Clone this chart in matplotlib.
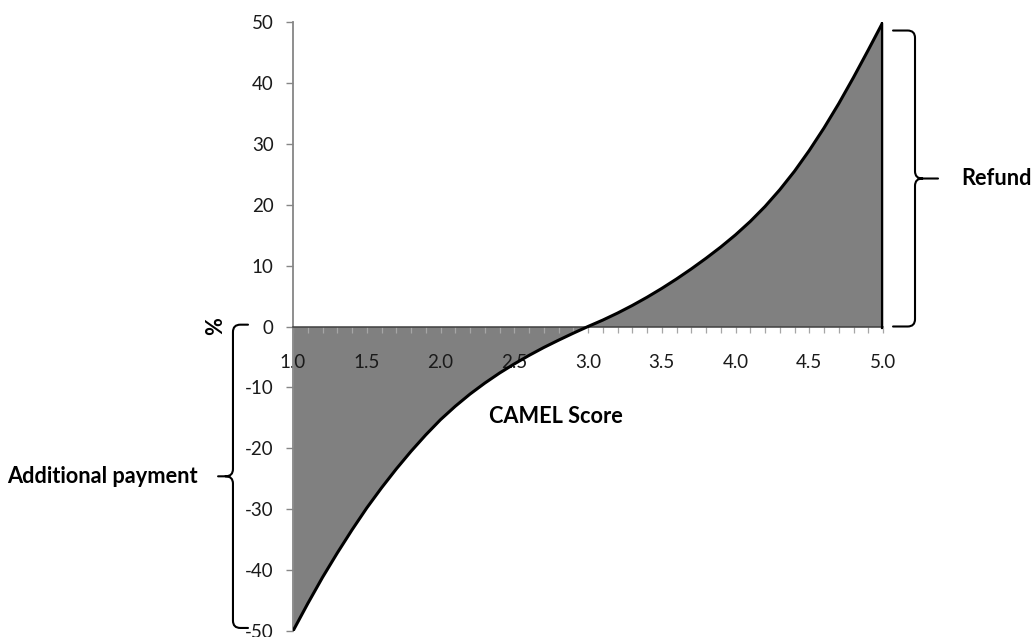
import matplotlib
matplotlib.use('Agg')
import matplotlib.pyplot as plt
from matplotlib.path import Path
from matplotlib.patches import PathPatch
from matplotlib.ticker import FixedLocator, MultipleLocator, FormatStrFormatter

# ---- data ----
camel_score = [1.0, 1.1, 1.2, 1.3, 1.4, 1.5, 1.6, 1.7, 1.8, 1.9, 2.0,
               2.1, 2.2, 2.3, 2.4, 2.5, 2.6, 2.7, 2.8, 2.9, 3.0,
               3.1, 3.2, 3.3, 3.4, 3.5, 3.6, 3.7, 3.8, 3.9, 4.0,
               4.1, 4.2, 4.3, 4.4, 4.5, 4.6, 4.7, 4.8, 4.9, 5.0]
pct = [-50.0, -45.5, -41.2, -37.2, -33.4, -29.8, -26.5, -23.4, -20.5, -17.8, -15.3,
       -13.1, -11.1, -9.3, -7.65, -6.15, -4.75, -3.45, -2.25, -1.1, 0.0,
       1.05, 2.2, 3.45, 4.8, 6.25, 7.8, 9.45, 11.2, 13.05, 15.05,
       17.25, 19.7, 22.45, 25.5, 28.9, 32.6, 36.6, 40.9, 45.4, 50.0]
x_major_ticks = [1.0, 1.5, 2.0, 2.5, 3.0, 3.5, 4.0, 4.5, 5.0]
y_ticks = [-50, -40, -30, -20, -10, 0, 10, 20, 30, 40, 50]

FONT = ['Lato', 'DejaVu Sans']
plt.rcParams['font.family'] = FONT
plt.rcParams['axes.unicode_minus'] = False

fig = plt.figure(figsize=(10.32, 6.37), dpi=100)
ax = fig.add_axes([293 / 1032, 6 / 637, 590 / 1032, 609 / 637])

ax.fill_between(camel_score, pct, 0, color='#808080', lw=0, zorder=1)
ax.plot(camel_score, pct, color='black', lw=2.2, zorder=3, solid_capstyle='round',
        solid_joinstyle='round')
ax.plot([camel_score[-1], camel_score[-1]], [0, pct[-1]], color='black', lw=3, zorder=3)

ax.set_xlim(camel_score[0], camel_score[-1])
ax.set_ylim(y_ticks[0], y_ticks[-1])

for s in ('top', 'right'):
    ax.spines[s].set_visible(False)
ax.spines['bottom'].set_position(('data', 0))
ax.spines['bottom'].set_color('#404040')
ax.spines['bottom'].set_linewidth(1.1)
ax.spines['left'].set_color('#868686')
ax.spines['left'].set_linewidth(1.3)

ax.xaxis.set_major_locator(FixedLocator(x_major_ticks))
ax.xaxis.set_minor_locator(MultipleLocator(0.1))
ax.xaxis.set_major_formatter(FormatStrFormatter('%.1f'))
ax.yaxis.set_major_locator(FixedLocator(y_ticks))

ax.tick_params(axis='x', which='both', direction='out', length=4, width=0.9,
               color='#a6a6a6', pad=16, labelsize=13.5, labelcolor='#1a1a1a')
ax.tick_params(axis='y', which='major', direction='out', length=5, width=1,
               color='#868686', pad=9, labelsize=13.5, labelcolor='#1a1a1a')

ax.set_xlabel('CAMEL Score', fontsize=15.7, fontweight='bold')
ax.xaxis.set_label_coords(0.4458, 0.353)
ax.xaxis.label.set_va('center')
ax.set_ylabel('%', fontsize=15.7, fontweight='bold', rotation=90)
ax.yaxis.set_label_coords(-0.1305, 0.5)
ax.yaxis.label.set_va('center')


def brace(ax, x_hook, x_spine, x_tip, y_top, y_bot, rx, ry):
    s = 1 if x_tip > x_spine else -1
    ym = (y_top + y_bot) / 2
    verts = [
        (x_hook, y_top), (x_spine - s * rx, y_top),
        (x_spine, y_top), (x_spine, y_top - ry),
        (x_spine, ym + ry),
        (x_spine, ym), (x_spine + s * rx, ym),
        (x_tip, ym),
        (x_spine + s * rx, ym),
        (x_spine, ym), (x_spine, ym - ry),
        (x_spine, y_bot + ry),
        (x_spine, y_bot), (x_spine - s * rx, y_bot),
        (x_hook, y_bot),
    ]
    codes = [Path.MOVETO, Path.LINETO,
             Path.CURVE3, Path.CURVE3,
             Path.LINETO,
             Path.CURVE3, Path.CURVE3,
             Path.LINETO,
             Path.MOVETO,
             Path.CURVE3, Path.CURVE3,
             Path.LINETO,
             Path.CURVE3, Path.CURVE3,
             Path.LINETO]
    p = PathPatch(Path(verts, codes), fill=False, lw=1.5, color='black',
                  clip_on=False, capstyle='round', joinstyle='round')
    ax.add_patch(p)


brace(ax, 5.068, 5.217, 5.373, 48.6, 0.0, 0.05, 1.2)
brace(ax, 0.695, 0.593, 0.492, 0.3, -49.5, 0.05, 1.2)

ax.text(5.533, 24.3, 'Refund', fontsize=15.7, fontweight='bold', ha='left', va='center',
        clip_on=False)
ax.text(0.356, -24.6, 'Additional payment', fontsize=15.7, fontweight='bold', ha='right',
        va='center', clip_on=False)

fig.savefig('out.png', dpi=100)
